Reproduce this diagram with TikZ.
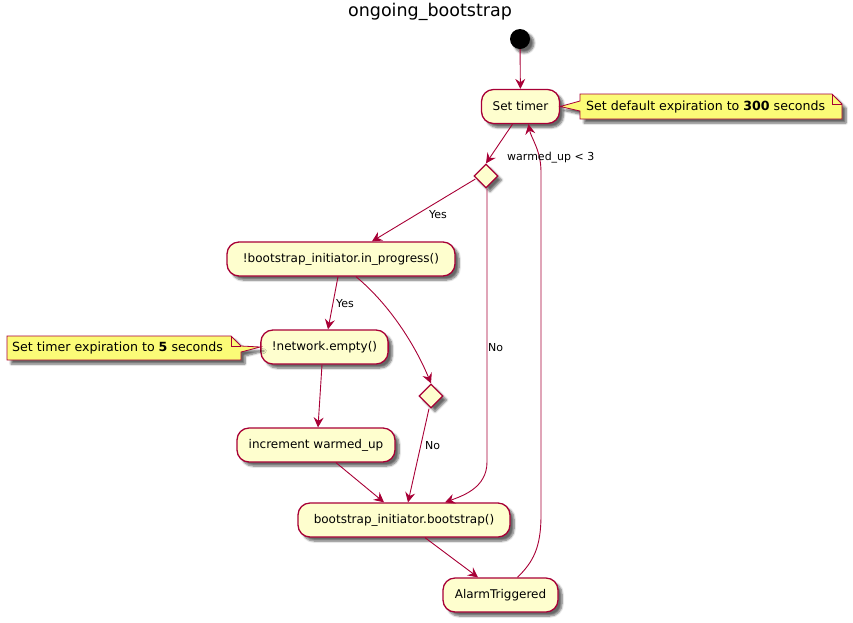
\documentclass[tikz,border=0pt]{standalone}
\usepackage{fontspec}
\setmainfont{DejaVu Sans}
\usetikzlibrary{arrows.meta,calc,shapes.geometric,shadows.blur}

\definecolor{umlred}{HTML}{A80036}
\definecolor{umlfill}{HTML}{FEFECE}
\definecolor{notefill}{HTML}{FBFB77}

\tikzset{
  shade3/.style={blur shadow={shadow xshift=4pt,shadow yshift=-4pt,shadow blur steps=6,shadow opacity=60}},
  actbox/.style={draw=umlred,fill=umlfill,line width=1.3pt,rounded corners=12pt,
    minimum height=34pt,inner xsep=11pt,shade3,font=\fontsize{12}{14}\selectfont},
  choice/.style={draw=umlred,fill=umlfill,line width=1.3pt,diamond,inner sep=0pt,
    minimum width=24pt,minimum height=24pt,shade3},
  notebody/.style={draw=umlred,fill=notefill,line width=0.8pt,shade3},
  notetext/.style={font=\fontsize{12.6}{15}\selectfont,inner sep=0pt},
  flow/.style={draw=umlred,line width=0.9pt,-{Stealth[length=10pt,width=10pt,inset=3.5pt]}},
  lbl/.style={font=\fontsize{11}{13}\selectfont,inner sep=0pt}
}

\begin{document}
\begin{tikzpicture}[x=1pt,y=-1pt]
\useasboundingbox (0,0) rectangle (853,622);

% title
\node[font=\fontsize{17.5}{20}\selectfont] (title) at (430,12) {ongoing\_bootstrap};

% start point
\node[circle,fill=black,minimum size=20pt,inner sep=0pt,shade3] (start) at (520,39) {};

% activities
\node[actbox,minimum width=78pt] (st) at (520.5,106.5) {Set timer};
\node[choice] (d1) at (486,176) {};
\node[actbox,minimum width=228pt] (bp) at (341,259) {!bootstrap\_initiator.in\_progress()};
\node[actbox,minimum width=127pt] (ne) at (324.5,347) {!network.empty()};
\node[choice] (d2) at (431,396) {};
\node[actbox,minimum width=158pt] (inc) at (316,445) {increment warmed\_up};
\node[actbox,minimum width=212pt] (bs) at (404,520) {bootstrap\_initiator.bootstrap()};
\node[actbox,minimum width=115pt] (at) at (500.5,595) {AlarmTriggered};

% notes: folded sheet with a pointer to the activity
\path[notebody] (580,94) -- (832,94) -- (842,104) -- (842,119) -- (580,119) -- (580,111)
  -- (st.east) -- (580,101) -- cycle;
\draw[umlred,line width=0.8pt] (832,94) -- (832,104) -- (842,104);
\node[notetext,anchor=west] (n1) at (586,107) {Set default expiration to \textbf{300} seconds};

\path[notebody] (7,336) -- (231,336) -- (241,346) -- (ne.west) -- (241,352) -- (241,360)
  -- (7,360) -- cycle;
\draw[umlred,line width=0.8pt] (231,336) -- (231,346) -- (241,346);
\node[notetext,anchor=west] (n2) at (12,348) {Set timer expiration to \textbf{5} seconds};

% connectors
\draw[flow] (start) -- (st);
\draw[flow] ($(st.south)+(-8,0)$) -- (d1.north);
\draw[flow] ($(d1.west)+(2,3)$) -- ($(bp.north)+(31,0)$);
\node[lbl,anchor=west] (yes1) at (429,215) {Yes};
\draw[flow] ($(d1.south)+(1,0)$) -- (487,462)
  .. controls (487,488) and (462,496) .. ($(bs.north)+(41,0)$);
\node[lbl,anchor=west] (no1) at (488,348) {No};
\draw[flow] ($(bp.south)+(-3,0)$) -- ($(ne.north)+(3.5,0)$);
\node[lbl,anchor=west] (yes2) at (336,304) {Yes};
\draw[flow] ($(bp.south)+(15,0)$) .. controls (390,305) and (415,345) .. (d2.north);
\draw[flow] ($(ne.south)+(-2.5,0)$) -- ($(inc.north)+(2,0)$);
\draw[flow] ($(d2.south)+(-2,0)$) -- ($(bs.north)+(4,0)$);
\node[lbl,anchor=west] (no2) at (425,446) {No};
\draw[flow] ($(inc.south)+(20,0)$) -- ($(bs.north)+(-20,0)$);
\draw[flow] ($(bs.south)+(21,0)$) -- ($(at.north)+(-22.5,0)$);
\draw[flow] ($(at.north)+(17,0)$) .. controls (533,562) and (541,548) .. (541,515)
  -- (541,172) .. controls (541,150) and (531,138) .. ($(st.south)+(8,0)$);
\node[lbl,anchor=west] (cond) at (507,158) {warmed\_up < 3};
\end{tikzpicture}
\end{document}
